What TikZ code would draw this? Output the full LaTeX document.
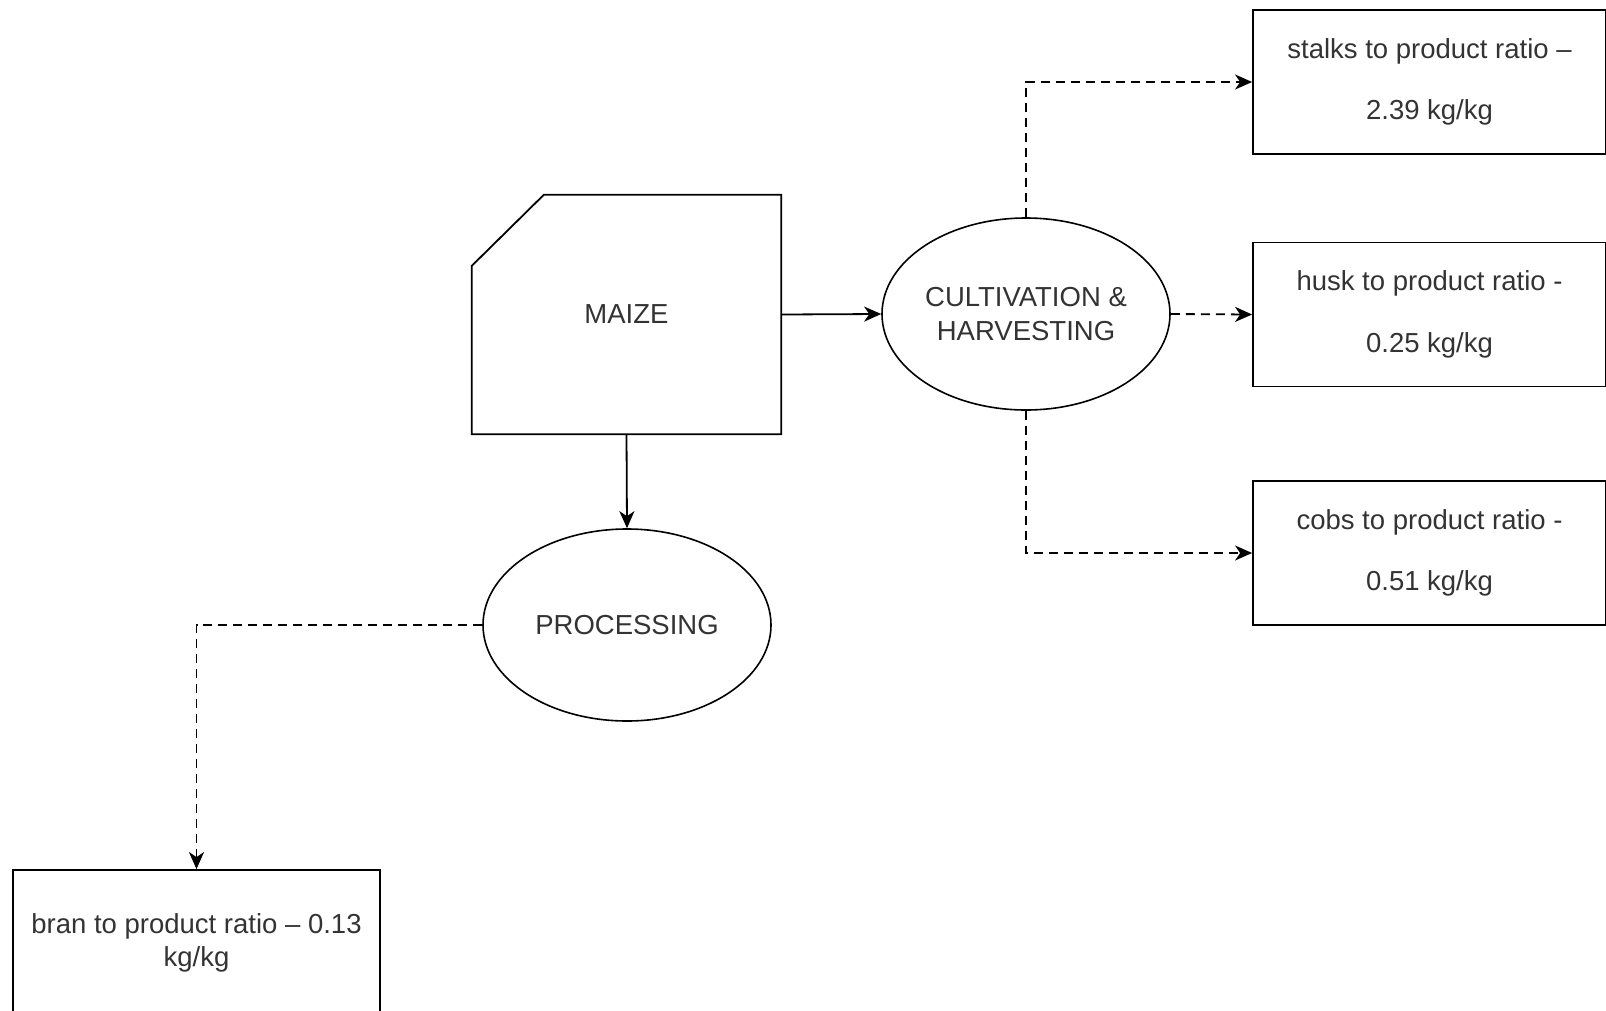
\documentclass[tikz,border=0pt]{standalone}
\usepackage{fontspec}
\setmainfont{Liberation Sans}
\usetikzlibrary{arrows.meta, shapes.geometric}

\begin{document}
\begin{tikzpicture}[x=1pt, y=-1pt,
        every node/.style={font=\fontsize{27.5}{33.5}\selectfont, text=black!80},
        process/.style={ellipse, draw, line width=1.6pt, align=center, inner sep=0pt, minimum width=288, minimum height=192},
        ratio/.style={rectangle, draw, line width=1.8pt, align=center, minimum width=353, minimum height=144},
        flow/.style={line width=1.8pt, -{Stealth[length=17pt, width=15pt, inset=5pt]}},
        byproduct/.style={flow, dash pattern=on 9pt off 6pt}]
        \useasboundingbox (0,0) rectangle (1606,1010);

        % crop card
        \node[minimum width=309, minimum height=239] (maize) at (626.5,314.5) {MAIZE};
        \draw[line width=1.8pt] ([xshift=72pt]maize.north west) -- (maize.north east) -- (maize.south east)
            -- (maize.south west) -- ([yshift=-71pt]maize.north west) -- cycle;

        \node[process] (cult) at (1026,314) {CULTIVATION \&\\HARVESTING};
        \node[process] (proc) at (627,625) {PROCESSING};

        % residue ratios
        \node[ratio] (stalks) at (1429.5,82) {stalks to product ratio --\\[28pt]2.39 kg/kg};
        \node[ratio] (husk) at (1429.5,314.5) {husk to product ratio -\\[28pt]0.25 kg/kg};
        \node[ratio] (cobs) at (1429.5,553) {cobs to product ratio -\\[28pt]0.51 kg/kg};
        \node[ratio, minimum width=367, minimum height=146] (bran) at (196.5,943) {bran to product ratio -- 0.13\\kg/kg};

        \draw[flow] (maize.east) -- (cult.west);
        \draw[flow] (maize.south) -- (proc.north);

        \draw[byproduct] (cult.north) |- (stalks.west);
        \draw[byproduct] (cult.east) -- (husk.west);
        \draw[byproduct] (cult.south) |- (cobs.west);
        \draw[byproduct] (proc.west) -| (bran.north);
    \end{tikzpicture}
\end{document}
